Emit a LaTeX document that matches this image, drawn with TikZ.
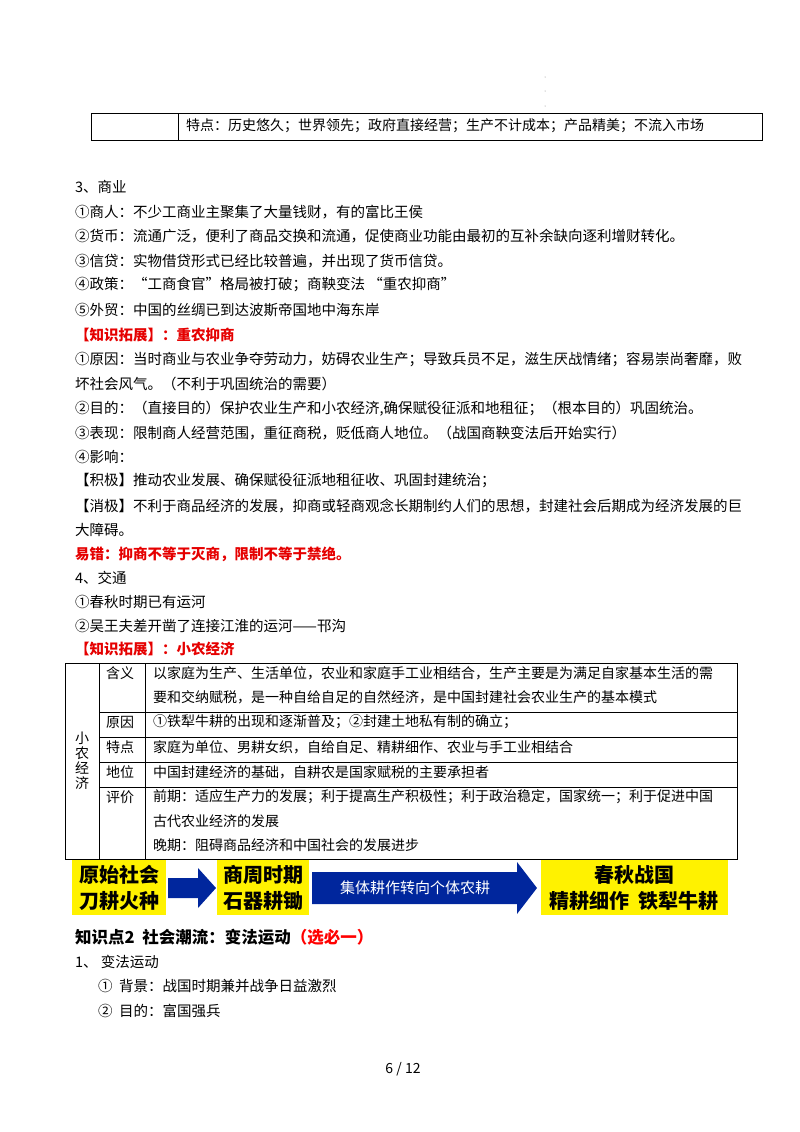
\documentclass[tikz,border=0pt]{standalone}
\usepackage{fontspec}
\setmainfont{Noto Sans CJK SC}
\begin{document}
\begin{tikzpicture}[x=1pt,y=-1pt,
  t/.style={anchor=west,inner sep=0pt,font=\fontsize{14.5}{16}\selectfont},
  tb/.style={anchor=west,inner sep=0pt,font=\fontsize{14}{16}\selectfont},
  red/.style={text=red!90!black,font=\fontsize{14.5}{16}\selectfont\bfseries},
  ybox/.style={fill=yellow,draw=none},
  bt/.style={inner sep=0pt,font=\fontsize{20}{22}\selectfont\bfseries},
  barrow/.style={fill=blue!55!black!85!cyan}]
\useasboundingbox (0,0) rectangle (800,1132);
% tiny dots
\foreach \yy in {77,91,106} \fill[gray] (545,\yy) circle (0.5);
% top table row
\draw[thick] (91,113) rectangle (762,140);
\draw[thick] (178,113) -- (178,140);
\node[tb] (tp) at (186,126) {特点：历史悠久；世界领先；政府直接经营；生产不计成本；产品精美；不流入市场};
% section 3
\node[t] (s3) at (75,187) {3、商业};
\node[t] (a1) at (75,212) {①商人：不少工商业主聚集了大量钱财，有的富比王侯};
\node[t] (a2) at (75,236) {②货币：流通广泛，便利了商品交换和流通，促使商业功能由最初的互补余缺向逐利增财转化。};
\node[t] (a3) at (75,261) {③信贷：实物借贷形式已经比较普遍，并出现了货币信贷。};
\node[t] (a4) at (75,285) {④政策：“工商食官”格局被打破；商鞅变法\ “重农抑商”};
\node[t] (a5) at (75,310) {⑤外贸：中国的丝绸已到达波斯帝国地中海东岸};
\node[t,red] (k1) at (75,335) {【知识拓展】：重农抑商};
\node[t] (b1) at (75,360) {①原因：当时商业与农业争夺劳动力，妨碍农业生产；导致兵员不足，滋生厌战情绪；容易崇尚奢靡，败};
\node[t] (b1b) at (75,384) {坏社会风气。（不利于巩固统治的需要）};
\node[t] (b2) at (75,409) {②目的：（直接目的）保护农业生产和小农经济,确保赋役征派和地租征；（根本目的）巩固统治。};
\node[t] (b3) at (75,433) {③表现：限制商人经营范围，重征商税，贬低商人地位。（战国商鞅变法后开始实行）};
\node[t] (b4) at (75,457) {④影响：};
\node[t] (b5) at (75,481) {【积极】推动农业发展、确保赋役征派地租征收、巩固封建统治；};
\node[t] (b6) at (75,506) {【消极】不利于商品经济的发展，抑商或轻商观念长期制约人们的思想，封建社会后期成为经济发展的巨};
\node[t] (b6b) at (75,530) {大障碍。};
\node[t,red] (e1) at (75,554) {易错：抑商不等于灭商，限制不等于禁绝。};
\node[t] (s4) at (75,578) {4、交通};
\node[t] (c1) at (75,602) {①春秋时期已有运河};
\node[t] (c2) at (75,626) {②吴王夫差开凿了连接江淮的运河——邗沟};
\node[t,red] (k2) at (75,649) {【知识拓展】：小农经济};
% small-farmer table
\draw[thick] (65,663) rectangle (737,859);
\draw[thick] (99,663) -- (99,859);
\draw[thick] (145,663) -- (145,859);
\foreach \yy in {712,737,762,787} \draw[thick] (99,\yy) -- (737,\yy);
\node[inner sep=0pt,align=center,font=\fontsize{14}{15}\selectfont] (xn) at (82,761) {小\\农\\经\\济};
\node[tb] (h1) at (106,673) {含义};
\node[tb] (h2) at (106,722) {原因};
\node[tb] (h3) at (106,747) {特点};
\node[tb] (h4) at (106,772) {地位};
\node[tb] (h5) at (106,797) {评价};
\node[tb] (r1) at (153,673) {以家庭为生产、生活单位，农业和家庭手工业相结合，生产主要是为满足自家基本生活的需};
\node[tb] (r1b) at (153,697) {要和交纳赋税，是一种自给自足的自然经济，是中国封建社会农业生产的基本模式};
\node[tb] (r2) at (153,722) {①铁犁牛耕的出现和逐渐普及；②封建土地私有制的确立；};
\node[tb] (r3) at (153,747) {家庭为单位、男耕女织，自给自足、精耕细作、农业与手工业相结合};
\node[tb] (r4) at (153,772) {中国封建经济的基础，自耕农是国家赋税的主要承担者};
\node[tb] (r5) at (153,797) {前期：适应生产力的发展；利于提高生产积极性；利于政治稳定，国家统一；利于促进中国};
\node[tb] (r5b) at (153,821) {古代农业经济的发展};
\node[tb] (r5c) at (153,845) {晚期：阻碍商品经济和中国社会的发展进步};
% banner
\fill[ybox] (72,860) rectangle (166,915);
\fill[ybox] (217,860) rectangle (309,915);
\fill[ybox] (541,860) rectangle (728,915);
\node[bt,align=center] (p1) at (119,888) {原始社会\\[4pt]刀耕火种};
\node[bt,align=center] (p2) at (263,888) {商周时期\\[4pt]石器耕锄};
\node[bt,align=center] (p3) at (634,888) {春秋战国\\[4pt]精耕细作\ \ 铁犁牛耕};
\fill[barrow] (168,878) -- (198,878) -- (198,868) -- (216,888) -- (198,908) -- (198,898) -- (168,898) -- cycle;
\fill[barrow] (312,872) -- (517,872) -- (517,862) -- (537,888) -- (517,914) -- (517,904) -- (312,904) -- cycle;
\node[inner sep=0pt,text=white,font=\fontsize{15}{16}\selectfont] (ar) at (415,888) {集体耕作转向个体农耕};
% section 2
\node[anchor=west,inner sep=0pt,font=\fontsize{16.5}{18}\selectfont\bfseries] (kp) at (75,937) {知识点2\ \ 社会潮流：变法运动\textcolor{red}{（选必一）}};
\node[t] (d0) at (75,962) {1、 变法运动};
\node[t] (d1) at (98,986) {①\ \ 背景：战国时期兼并战争日益激烈};
\node[t] (d2) at (98,1011) {②\ \ 目的：富国强兵};
\node[inner sep=0pt,font=\fontsize{14}{16}\selectfont] (pg) at (403,1069) {6\ /\ 12};
\end{tikzpicture}
\end{document}
